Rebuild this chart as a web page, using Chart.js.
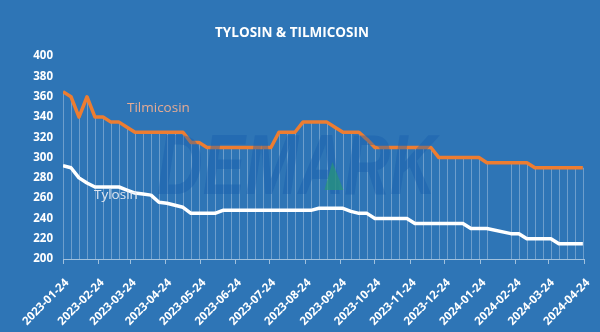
<!DOCTYPE html>
<html>
<head>
<meta charset="utf-8">
<script src="https://cdn.jsdelivr.net/npm/chart.js@4/dist/chart.umd.min.js"></script>
<style>
  html, body { margin: 0; padding: 0; background: #2e75b6; }
  #wrap { width: 600px; height: 332px; }
</style>
</head>
<body>
<div id="wrap"><canvas id="priceChart"></canvas></div>
<script>
// weekly quotes (no quotes during the 2024 spring festival weeks)
const dates = [
  "2023-01-24", "2023-01-31", "2023-02-07", "2023-02-14", "2023-02-21", "2023-02-28",
  "2023-03-07", "2023-03-14", "2023-03-21", "2023-03-28", "2023-04-04", "2023-04-11",
  "2023-04-18", "2023-04-25", "2023-05-02", "2023-05-09", "2023-05-16", "2023-05-23",
  "2023-05-30", "2023-06-06", "2023-06-13", "2023-06-20", "2023-06-27", "2023-07-04",
  "2023-07-11", "2023-07-18", "2023-07-25", "2023-08-01", "2023-08-08", "2023-08-15",
  "2023-08-22", "2023-08-29", "2023-09-05", "2023-09-12", "2023-09-19", "2023-09-26",
  "2023-10-03", "2023-10-10", "2023-10-17", "2023-10-24", "2023-10-31", "2023-11-07",
  "2023-11-14", "2023-11-21", "2023-11-28", "2023-12-05", "2023-12-12", "2023-12-19",
  "2023-12-26", "2024-01-02", "2024-01-09", "2024-01-16", "2024-01-23", "2024-01-30",
  "2024-02-20", "2024-02-27", "2024-03-05", "2024-03-12", "2024-03-19", "2024-03-26",
  "2024-04-02", "2024-04-09", "2024-04-16", "2024-04-23"
];

const tilmicosin = [
  365, 360, 340, 360, 340, 340,
  335, 335, 330, 325, 325, 325,
  325, 325, 325, 325, 315, 315,
  310, 310, 310, 310, 310, 310,
  310, 310, 310, 325, 325, 325,
  335, 335, 335, 335, 330, 325,
  325, 325, 318, 310, 310, 310,
  310, 310, 310, 310, 310, 300,
  300, 300, 300, 300, 300, 295,
  295, 295, 295, 290, 290, 290,
  290, 290, 290, 290
];

const tylosin = [
  292, 290, 280, 275, 271, 271,
  271, 271, 268, 265, 264, 263,
  256, 255, 253, 251, 245, 245,
  245, 245, 248, 248, 248, 248,
  248, 248, 248, 248, 248, 248,
  248, 248, 250, 250, 250, 250,
  247, 245, 245, 240, 240, 240,
  240, 240, 235, 235, 235, 235,
  235, 235, 235, 230, 230, 230,
  225, 225, 220, 220, 220, 220,
  215, 215, 215, 215
];

const monthTicks = [
  "2023-01-24", "2023-02-24", "2023-03-24", "2023-04-24", "2023-05-24",
  "2023-06-24", "2023-07-24", "2023-08-24", "2023-09-24", "2023-10-24",
  "2023-11-24", "2023-12-24", "2024-01-24", "2024-02-24", "2024-03-24",
  "2024-04-24"
];

const yTicks = [200, 220, 240, 260, 280, 300, 320, 340, 360, 380, 400];

const START = Date.UTC(2023, 0, 24);
function dayOf(s) {
  const [y, m, d] = s.split("-").map(Number);
  return (Date.UTC(y, m - 1, d) - START) / 86400000;
}

const FONT = "'Open Sans', 'Liberation Sans', sans-serif";
const BG = "#2e75b6";

const background = {
  id: "background",
  beforeDraw(chart) {
    const ctx = chart.ctx;
    ctx.save();
    ctx.fillStyle = BG;
    ctx.fillRect(0, 0, chart.width, chart.height);
    ctx.restore();
  },
};

// drop lines from the top series down to the date axis
const dropLines = {
  id: "dropLines",
  beforeDatasetsDraw(chart) {
    const { ctx, chartArea, scales } = chart;
    ctx.save();
    ctx.strokeStyle = "rgba(255,255,255,0.3)";
    ctx.lineWidth = 1;
    dates.forEach((d, i) => {
      const x = Math.round(scales.x.getPixelForValue(dayOf(d))) + 0.5;
      const top = scales.y.getPixelForValue(Math.max(tilmicosin[i], tylosin[i]));
      ctx.beginPath();
      ctx.moveTo(x, chartArea.bottom);
      ctx.lineTo(x, top);
      ctx.stroke();
    });
    ctx.restore();
  },
};

// watermark + series name labels
const overlay = {
  id: "overlay",
  afterDatasetsDraw(chart) {
    const { ctx, chartArea, scales } = chart;
    ctx.save();

    // logo watermark
    const cx = chartArea.left + chartArea.width * 0.448;
    const by = chartArea.top + chartArea.height * 0.68;
    ctx.save();
    ctx.translate(cx, by);
    ctx.scale(0.74, 1);
    ctx.font = "italic bold 86px 'Liberation Sans', sans-serif";
    ctx.textAlign = "center";
    ctx.textBaseline = "alphabetic";
    ctx.fillStyle = "rgba(22,92,172,0.4)";
    ctx.fillText("DEMARK", 0, 0);
    ctx.restore();
    ctx.fillStyle = "rgba(40,150,120,0.7)";
    ctx.beginPath();
    ctx.moveTo(cx + 36, by - 32);
    ctx.lineTo(cx + 47, by - 4);
    ctx.lineTo(cx + 28, by - 4);
    ctx.closePath();
    ctx.fill();

    ctx.font = "13.5px " + FONT;
    ctx.textAlign = "left";
    ctx.textBaseline = "middle";
    const i = 8;
    ctx.fillStyle = "#e6ab93";
    ctx.fillText("Tilmicosin",
      scales.x.getPixelForValue(dayOf(dates[i])),
      scales.y.getPixelForValue(tilmicosin[i]) - 19);
    const j = 4;
    ctx.fillStyle = "#dfe5ef";
    ctx.fillText("Tylosin",
      scales.x.getPixelForValue(dayOf(dates[j])) - 1,
      scales.y.getPixelForValue(tylosin[j]) + 8);
    ctx.restore();
  },
};

new Chart(document.getElementById("priceChart"), {
  type: "line",
  data: {
    datasets: [
      {
        label: "Tilmicosin",
        data: dates.map((d, i) => ({ x: dayOf(d), y: tilmicosin[i] })),
        borderColor: "#ed7d31",
        borderWidth: 3.5,
        pointRadius: 0,
        tension: 0,
        borderJoinStyle: "round",
      },
      {
        label: "Tylosin",
        data: dates.map((d, i) => ({ x: dayOf(d), y: tylosin[i] })),
        borderColor: "#ffffff",
        borderWidth: 3.5,
        pointRadius: 0,
        tension: 0,
        borderJoinStyle: "round",
      },
    ],
  },
  options: {
    responsive: true,
    maintainAspectRatio: false,
    animation: false,
    layout: { padding: { left: 0, right: 16, top: 0, bottom: 0 } },
    plugins: {
      legend: { display: false },
      tooltip: { enabled: false },
      title: {
        display: true,
        text: "TYLOSIN & TILMICOSIN",
        color: "#ffffff",
        font: { family: FONT, size: 13.5, weight: "bold" },
        padding: { top: 25, bottom: 15 },
      },
    },
    scales: {
      x: {
        type: "linear",
        min: 0,
        max: dayOf(monthTicks[monthTicks.length - 1]),
        afterBuildTicks: (s) => {
          s.ticks = monthTicks.map((t) => ({ value: dayOf(t) }));
        },
        afterFit: (s) => {
          s.height = 73;
          s.paddingLeft = 0;
          s.paddingRight = 0;
        },
        ticks: {
          autoSkip: false,
          maxRotation: 45,
          minRotation: 45,
          padding: 12,
          labelOffset: 4,
          color: "#ffffff",
          font: { family: FONT, size: 11.5, weight: "bold" },
          callback: (v, idx) => monthTicks[idx],
        },
        grid: {
          drawOnChartArea: false,
          color: "rgba(255,255,255,0.55)",
          tickLength: 5,
        },
        border: { color: "rgba(255,255,255,0.55)" },
      },
      y: {
        min: 200,
        max: 400,
        afterBuildTicks: (s) => {
          s.ticks = yTicks.map((v) => ({ value: v }));
        },
        afterFit: (s) => {
          s.width = 63;
        },
        ticks: {
          padding: 10,
          color: "#ffffff",
          font: { family: FONT, size: 11.5, weight: "bold" },
        },
        grid: { display: false, drawTicks: false },
        border: { display: false },
      },
    },
  },
  plugins: [background, dropLines, overlay],
});
</script>
</body>
</html>
